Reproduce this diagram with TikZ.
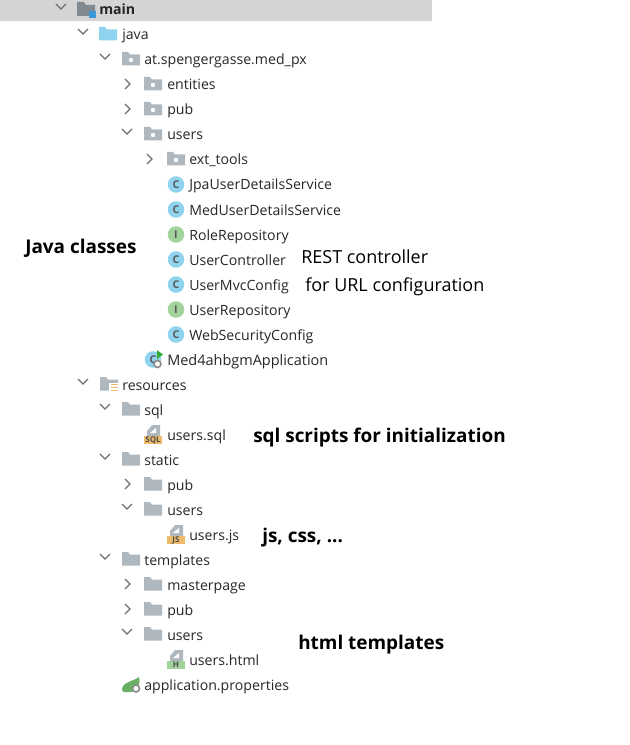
\documentclass[tikz,border=0pt]{standalone}
\usepackage{fontspec}
\setmainfont{Open Sans}
\definecolor{barre}{HTML}{D4D4D4}
\definecolor{gris}{HTML}{AFB8BF}
\definecolor{bleu}{HTML}{8FD3EE}
\definecolor{vert}{HTML}{A3D39C}
\definecolor{trait}{HTML}{6E6E6E}
\definecolor{jaune}{HTML}{EDBB6B}
\tikzset{
	ouvert/.pic={\draw[trait,line width=0.9pt] (-5,-3)--(0,2)--(5,-3);},
	ferme/.pic={\draw[trait,line width=0.9pt] (-2,-5)--(3,0)--(-2,5);},
	dossier/.pic={\fill[#1] (-9,-6.5)--(-3,-6.5)--(-1,-4)--(9,-4)--(9,7)--(-9,7)--cycle;},
	paquet/.pic={\fill[gris] (-9,-6.5)--(-3,-6.5)--(-1,-4)--(9,-4)--(9,7)--(-9,7)--cycle;
		\fill[white] (0,1.5) circle (2.2);},
	fichier/.pic={\fill[gris] (-1,-11)--(7,-11)--(7,0)--(-6,0)--(-6,-5)--cycle;
		\fill[white] (-3,-3)--(3,-8)--(3,-3)--cycle;},
}
\begin{document}
\begin{tikzpicture}[x=0.75pt,y=-0.75pt]
	\tikzstyle{libelle}=[anchor=base west,inner sep=0pt,font=\fontsize{10.6pt}{12pt}\selectfont,text=black!85]
	\tikzstyle{note}=[anchor=base west,inner sep=0pt,font=\fontsize{13.5pt}{15pt}\selectfont,text=black]
	\tikzstyle{noteforte}=[note,font=\fontsize{14.2pt}{16pt}\selectfont\bfseries]
	\tikzstyle{classe}=[circle,fill=bleu,minimum size=12.4pt,inner sep=0pt,text=black!65,font=\fontsize{8pt}{8pt}\selectfont\bfseries]
	\tikzstyle{interface}=[classe,fill=vert]
	\tikzstyle{bandeau}=[rectangle,minimum height=6.2pt,minimum width=14pt,inner sep=0pt,font=\fontsize{6pt}{6pt}\selectfont\bfseries,text=black!70]
	
	\useasboundingbox (0,0) rectangle (630,745);
	\fill[barre] (0,0) rectangle (432,21);
	
	% main
	\pic at (61,7) {ouvert};
	\fill[gris!75!black] (77,2)--(84,2)--(86,5)--(95,5)--(95,16)--(77,16)--cycle;
	\fill[cyan!70!blue!80] (88.5,11) rectangle (95.5,18);
	\node[libelle,font=\fontsize{10.6pt}{12pt}\selectfont\bfseries] (main) at (99,15) {main};
	
	% java
	\pic at (83,32) {ouvert};
	\pic at (108,33.5) {dossier=bleu};
	\node[libelle] (java) at (122,40) {java};
	\pic at (105,57) {ouvert};
	\pic at (131,58.5) {paquet};
	\node[libelle] (spenger) at (144,65) {at.spengergasse.med\_px};
	\pic at (127,84) {ferme};
	\pic at (153,83.5) {paquet};
	\node[libelle] (entities) at (167,90) {entities};
	\pic at (127,109) {ferme};
	\pic at (153,108.5) {paquet};
	\node[libelle] (pubA) at (167,115) {pub};
	\pic at (127,132) {ouvert};
	\pic at (153,133.5) {paquet};
	\node[libelle] (usersA) at (167,140) {users};
	\pic at (149,159) {ferme};
	\pic at (176,158.5) {paquet};
	\node[libelle] (tools) at (189,165) {ext\_tools};
	
	% classes
	\node[classe] (cJpa) at (176,184.5) {C};
	\node[libelle] (jpa) at (189,190) {JpaUserDetailsService};
	\node[classe] (cMed) at (176,209.5) {C};
	\node[libelle] (med) at (189,215) {MedUserDetailsService};
	\node[interface] (iRole) at (176,234.5) {I};
	\node[libelle] (role) at (189,240) {RoleRepository};
	\node[classe] (cCtrl) at (176,259.5) {C};
	\node[libelle] (ctrl) at (189,265) {UserController};
	\node[classe] (cMvc) at (176,284.5) {C};
	\node[libelle] (mvc) at (189,290) {UserMvcConfig};
	\node[interface] (iUser) at (176,309.5) {I};
	\node[libelle] (repo) at (189,315) {UserRepository};
	\node[classe] (cWeb) at (176,334.5) {C};
	\node[libelle] (web) at (189,340) {WebSecurityConfig};
	\node[classe] (cApp) at (153,359.5) {C};
	\fill[green!60!black!80] (157,350)--(163,354.5)--(157,359)--cycle;
	\draw[trait!80,line width=1.2pt,fill=white] (157.5,364) circle (3.5);
	\node[libelle,font=\fontsize{10.85pt}{12pt}\selectfont] (app) at (167,365) {Med4ahbgmApplication};
	
	% resources
	\pic at (83,382) {ouvert};
	\pic at (109,383.5) {dossier=gris};
	\fill[white] (109,383) rectangle (119,392);
	\draw[jaune,line width=1pt] (111,384.5)--(118,384.5) (111,387.5)--(118,387.5) (111,390.5)--(118,390.5);
	\node[libelle] (resources) at (122,390) {resources};
	\pic at (105,407) {ouvert};
	\pic at (131,408.5) {dossier=gris};
	\node[libelle] (sql) at (144,415) {sql};
	\pic at (153,436) {fichier};
	\node[bandeau,fill=jaune] (bSql) at (153,440) {SQL};
	\node[libelle] (usersSql) at (167,440) {users.sql};
	\pic at (105,457) {ouvert};
	\pic at (131,458.5) {dossier=gris};
	\node[libelle] (static) at (144,465) {static};
	\pic at (127,484) {ferme};
	\pic at (153,483.5) {dossier=gris};
	\node[libelle] (pubB) at (167,490) {pub};
	\pic at (127,507) {ouvert};
	\pic at (153,508.5) {dossier=gris};
	\node[libelle] (usersB) at (167,515) {users};
	\pic at (176,536) {fichier};
	\node[bandeau,fill=jaune] (bJs) at (176,540) {JS};
	\node[libelle] (usersJs) at (189,540) {users.js};
	\pic at (105,557) {ouvert};
	\pic at (131,558.5) {dossier=gris};
	\node[libelle] (templates) at (144,565) {templates};
	\pic at (127,584) {ferme};
	\pic at (153,583.5) {dossier=gris};
	\node[libelle] (master) at (167,590) {masterpage};
	\pic at (127,609) {ferme};
	\pic at (153,608.5) {dossier=gris};
	\node[libelle] (pubC) at (167,615) {pub};
	\pic at (127,632) {ouvert};
	\pic at (153,633.5) {dossier=gris};
	\node[libelle] (usersC) at (167,640) {users};
	\pic at (176,661) {fichier};
	\node[bandeau,fill=vert] (bHtml) at (176,665) {H};
	\node[libelle] (usersHtml) at (189,665) {users.html};
	\fill[vert!80!green!80!black] (122,690)..controls (122,682) and (132,682) .. (139,677)..controls (141,686) and (136,693) .. (128,692)--(124,692)--cycle;
	\draw[trait!80,line width=1.2pt,fill=white] (136,688.5) circle (3.5);
	\node[libelle] (props) at (144,690) {application.properties};
	
	% notes
	\node[noteforte] (nJava) at (25,253) {Java classes};
	\node[note] (nRest) at (301,263) {REST controller};
	\node[note] (nUrl) at (305,291) {for URL configuration};
	\node[noteforte] (nSql) at (253,442) {sql scripts for initialization};
	\node[noteforte] (nJs) at (262,542) {js, css, ...};
	\node[noteforte] (nHtml) at (298,649) {html templates};
\end{tikzpicture}
\end{document}
